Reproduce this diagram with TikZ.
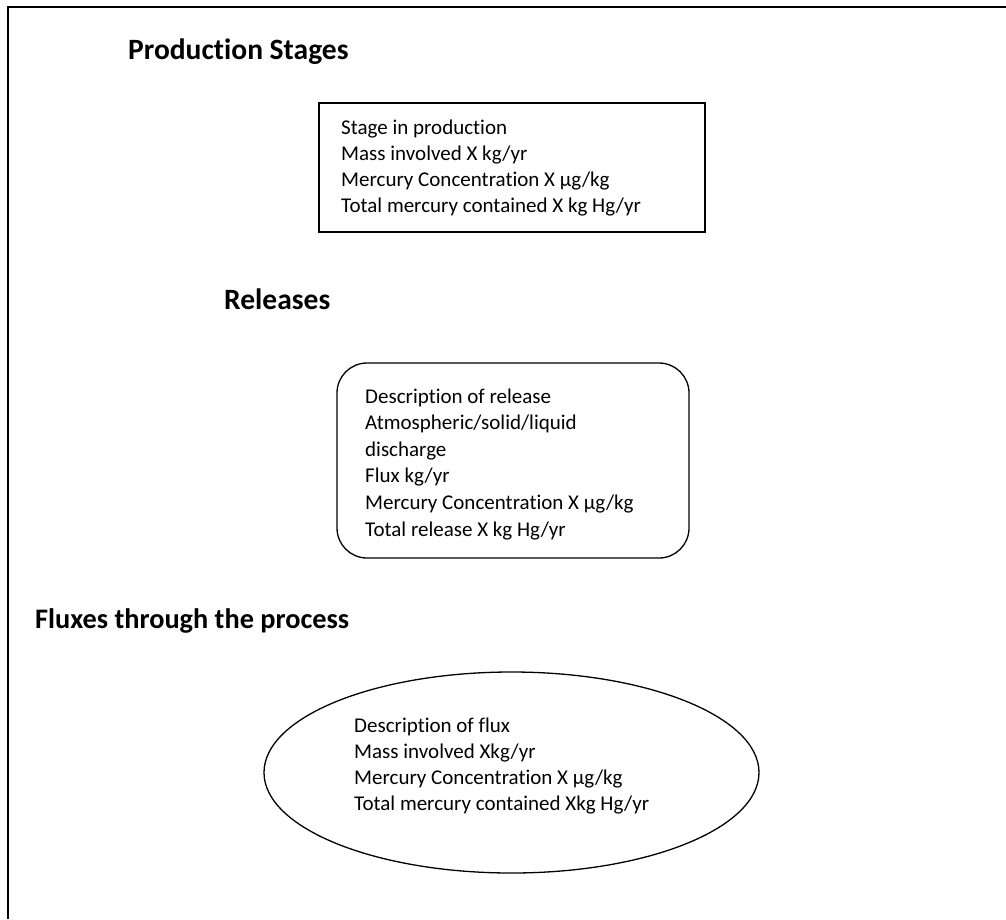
\documentclass[tikz,border=0pt]{standalone}
\usepackage{fontspec}
\setmainfont{Carlito}[RawFeature={-liga;-dlig}]
\usetikzlibrary{shapes.geometric}
\tikzset{
  head/.style={anchor=base west, inner sep=0pt, font=\fontsize{29.5}{34}\selectfont\bfseries},
  line/.style={anchor=base west, inner sep=0pt, font=\fontsize{21}{26}\selectfont},
  shapeline/.style={draw=black, line width=1.3pt, inner sep=0pt},
}
\begin{document}
\begin{tikzpicture}[x=1pt, y=-1pt]
\useasboundingbox (0,0) rectangle (1006,919);
% outer frame (cut off at right and bottom)
\draw[line width=1.4pt] (8,919) -- (8,7) -- (1006,7);

% headings
\node[head] (h1) at (128,59) {Production Stages};
\node[head] (h2) at (224,309) {Releases};
\node[head, font=\fontsize{28.3}{34}\selectfont\bfseries] (h3) at (35,628) {Fluxes through the process};

% production stage box
\node[shapeline, rectangle, minimum width=386pt, minimum height=129pt] (stage) at (512,167.5) {};
\foreach \t [count=\i] in {Stage in production, Mass involved X kg/yr, Mercury Concentration X µg/kg, Total mercury contained X kg Hg/yr}
  \node[line] (stage-\i) at (341,{134.5+26*(\i-1)}) {\t};

% release box
\node[shapeline, rectangle, rounded corners=30pt, minimum width=352pt, minimum height=195pt] (release) at (513,460.5) {};
\foreach \t [count=\i] in {Description of release, Atmospheric/solid/liquid, discharge, Flux kg/yr, Mercury Concentration X µg/kg, Total release X kg Hg/yr}
  \node[line] (release-\i) at (365,{403+26.6*(\i-1)}) {\t};

% flux ellipse
\node[shapeline, ellipse, minimum width=495pt, minimum height=201pt] (flux) at (511.5,772.5) {};
\foreach \t [count=\i] in {Description of flux, Mass involved Xkg/yr, Mercury Concentration X µg/kg, Total mercury contained Xkg Hg/yr}
  \node[line] (flux-\i) at (354,{732+26*(\i-1)}) {\t};
\end{tikzpicture}
\end{document}
